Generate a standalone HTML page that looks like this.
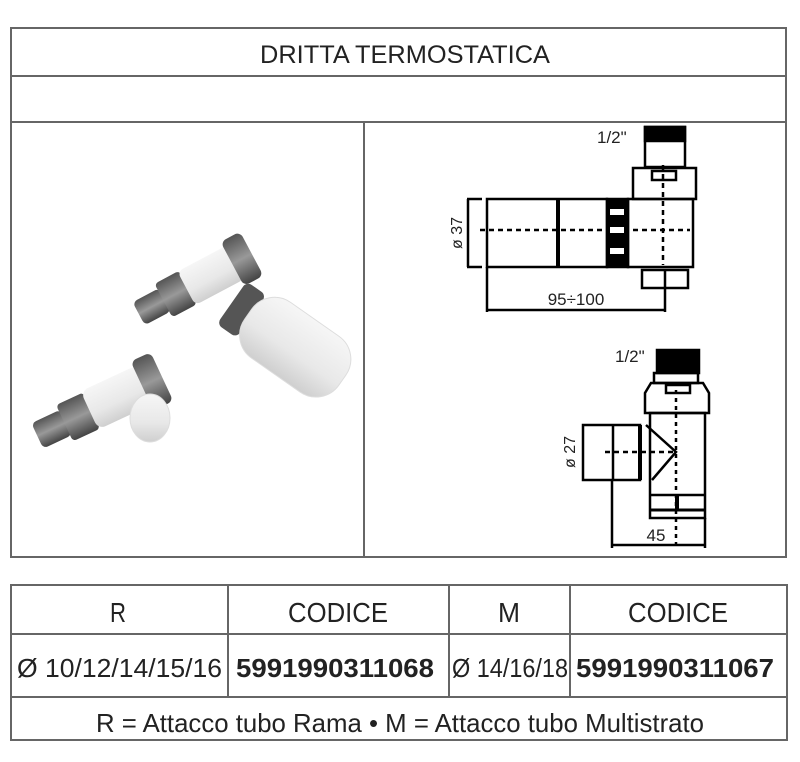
<!DOCTYPE html>
<html><head><meta charset="utf-8"><style>
html,body{margin:0;padding:0;background:#fff;width:800px;height:762px;overflow:hidden}
svg{display:block}
text{font-family:"Liberation Sans",sans-serif;fill:#222}
</style></head><body>
<svg width="800" height="762" viewBox="0 0 800 762" xmlns="http://www.w3.org/2000/svg">
<defs>
<linearGradient id="m" x1="0" y1="0" x2="0" y2="1"><stop offset="0" stop-color="#555"/><stop offset=".5" stop-color="#999"/><stop offset="1" stop-color="#444"/></linearGradient>
<linearGradient id="w" x1="0" y1="0" x2="0" y2="1"><stop offset="0" stop-color="#f6f6f6"/><stop offset=".6" stop-color="#e8e8e8"/><stop offset="1" stop-color="#cfcfcf"/></linearGradient>
</defs>
<g fill="none" stroke="#666" stroke-width="2">
<rect x="11" y="28" width="775" height="529"/>
<line x1="11" y1="76" x2="786" y2="76"/>
<line x1="11" y1="122" x2="786" y2="122"/>
<line x1="364" y1="122" x2="364" y2="557"/>
<rect x="11" y="585" width="776" height="155"/>
<line x1="11" y1="634" x2="787" y2="634"/>
<line x1="11" y1="697" x2="787" y2="697"/>
<line x1="228" y1="585" x2="228" y2="697"/>
<line x1="449" y1="585" x2="449" y2="697"/>
<line x1="570" y1="585" x2="570" y2="697"/>
</g>
<text x="405" y="63" font-size="25" text-anchor="middle" textLength="290" lengthAdjust="spacingAndGlyphs">DRITTA TERMOSTATICA</text>
<text x="118" y="622" font-size="28" text-anchor="middle" textLength="16" lengthAdjust="spacingAndGlyphs">R</text>
<text x="338" y="622" font-size="28" text-anchor="middle" textLength="100" lengthAdjust="spacingAndGlyphs">CODICE</text>
<text x="509" y="622" font-size="28" text-anchor="middle" textLength="22" lengthAdjust="spacingAndGlyphs">M</text>
<text x="678" y="622" font-size="28" text-anchor="middle" textLength="100" lengthAdjust="spacingAndGlyphs">CODICE</text>
<text x="17" y="677" font-size="26" textLength="205" lengthAdjust="spacingAndGlyphs">Ø 10/12/14/15/16</text>
<text x="236" y="677" font-size="26" font-weight="bold" textLength="198" lengthAdjust="spacingAndGlyphs">5991990311068</text>
<text x="452" y="677" font-size="26" textLength="116" lengthAdjust="spacingAndGlyphs">Ø 14/16/18</text>
<text x="576" y="677" font-size="26" font-weight="bold" textLength="198" lengthAdjust="spacingAndGlyphs">5991990311067</text>
<text x="400" y="732" font-size="26" text-anchor="middle" textLength="608" lengthAdjust="spacingAndGlyphs">R = Attacco tubo Rama • M = Attacco tubo Multistrato</text>

<!-- photo -->
<g transform="rotate(-28 200 280)">
<rect x="130" y="268" width="30" height="26" rx="5" fill="url(#m)"/>
<rect x="158" y="262" width="28" height="38" rx="4" fill="url(#m)"/>
<rect x="184" y="262" width="56" height="38" rx="6" fill="url(#w)"/>
<rect x="236" y="256" width="22" height="50" rx="6" fill="url(#m)"/>
</g>
<g transform="rotate(35 285 340)">
<rect x="220" y="314" width="24" height="52" rx="6" fill="#555"/>
<rect x="240" y="306" width="115" height="68" rx="28" fill="url(#w)" stroke="#ddd"/>
</g>
<g transform="rotate(-25 100 400)">
<rect x="28" y="392" width="32" height="28" rx="5" fill="url(#m)"/>
<rect x="58" y="386" width="30" height="40" rx="4" fill="url(#m)"/>
<rect x="86" y="384" width="62" height="42" rx="8" fill="url(#w)"/>
<rect x="144" y="378" width="22" height="54" rx="6" fill="url(#m)"/>
</g>
<ellipse cx="150" cy="418" rx="20" ry="24" fill="url(#w)" stroke="#ddd"/>

<!-- drawing 1 -->
<g stroke="#000" stroke-width="2.5" fill="none">
<rect x="487" y="199" width="120" height="68"/>
<line x1="558" y1="199" x2="558" y2="267" stroke-width="4"/>
<rect x="607" y="199" width="21" height="68" fill="#000"/>
<rect x="628" y="199" width="65" height="68"/>
<rect x="633" y="168" width="63" height="31"/>
<rect x="645" y="127" width="40" height="40"/>
<rect x="645" y="127" width="40" height="14" fill="#000"/>
<rect x="652" y="171" width="24" height="9"/>
<rect x="642" y="270" width="46" height="18"/>
<line x1="665" y1="270" x2="665" y2="288"/>
<line x1="467" y1="199" x2="482" y2="199"/><line x1="467" y1="267" x2="482" y2="267"/>
<line x1="468" y1="199" x2="468" y2="267"/>
<line x1="487" y1="267" x2="487" y2="312"/>
<line x1="665" y1="288" x2="665" y2="312"/>
<line x1="487" y1="310" x2="665" y2="310"/>
<line x1="480" y1="230" x2="690" y2="230" stroke-dasharray="5,4"/>
<line x1="663" y1="165" x2="663" y2="265" stroke-dasharray="5,4"/>
</g>
<g fill="#fff"><rect x="610" y="209" width="14" height="6"/><rect x="610" y="227" width="14" height="6"/><rect x="610" y="248" width="14" height="6"/></g>
<text x="597" y="143" font-size="17">1/2"</text>
<text x="576" y="305" font-size="17" text-anchor="middle">95÷100</text>
<text transform="translate(462 233) rotate(-90)" font-size="16" text-anchor="middle">ø 37</text>

<!-- drawing 2 -->
<g stroke="#000" stroke-width="2.5" fill="none">
<rect x="657" y="350" width="42" height="23" fill="#000"/>
<rect x="654" y="373" width="44" height="10"/>
<path d="M651 383 h52 l6 10 v20 h-64 v-20 z"/>
<rect x="666" y="385" width="24" height="8"/>
<rect x="650" y="413" width="55" height="105"/>
<rect x="583" y="425" width="57" height="55" fill="#fff"/>
<line x1="613" y1="425" x2="613" y2="480"/>
<line x1="640" y1="425" x2="640" y2="480" stroke-width="4"/>
<path d="M646 425 L676 452 L652 480"/>
<line x1="650" y1="495" x2="705" y2="495"/>
<line x1="650" y1="510" x2="705" y2="510" stroke-width="3"/>
<line x1="677" y1="495" x2="677" y2="510" stroke-width="4"/>
<line x1="612" y1="480" x2="612" y2="548"/>
<line x1="705" y1="518" x2="705" y2="548"/>
<line x1="612" y1="545" x2="705" y2="545"/>
<line x1="605" y1="452" x2="675" y2="452" stroke-dasharray="5,4"/>
<line x1="676" y1="390" x2="676" y2="545" stroke-dasharray="4,4"/>
</g>
<text x="615" y="362" font-size="17">1/2"</text>
<text x="656" y="541" font-size="17" text-anchor="middle">45</text>
<text transform="translate(575 452) rotate(-90)" font-size="16" text-anchor="middle">ø 27</text>
</svg>
</body></html>
